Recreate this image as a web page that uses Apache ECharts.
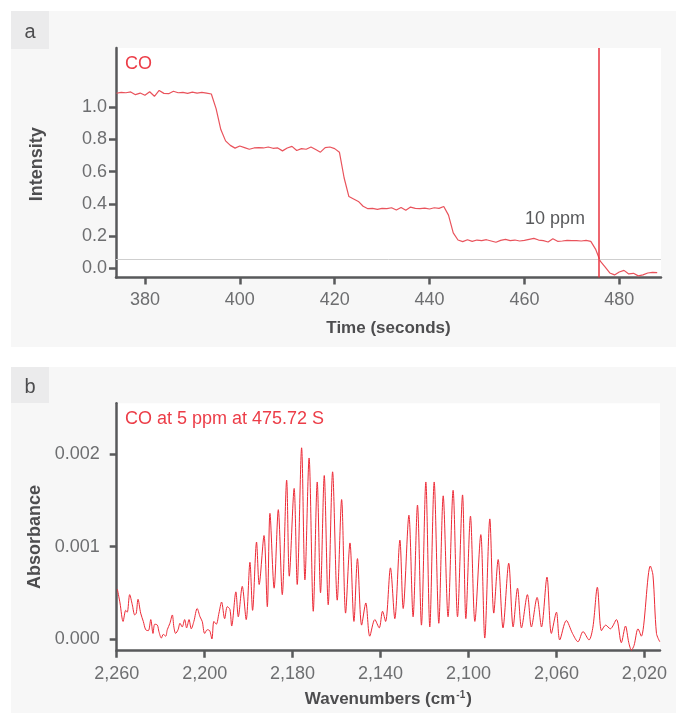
<!DOCTYPE html>
<html>
<head>
<meta charset="utf-8">
<script src="https://cdn.jsdelivr.net/npm/echarts@6/dist/echarts.min.js"></script>
<style>
  html, body { margin: 0; padding: 0; background: #fff; }
  #chart { width: 676px; height: 713px; }
</style>
</head>
<body>
<div id="chart"></div>
<script>
// panel a: CO intensity over time
const timeSec = [374, 375, 376, 377, 378, 379, 380, 381, 382, 383, 384, 385, 386, 387, 388, 389, 390, 391, 392, 393,
  394, 395, 396, 397, 398, 399, 400, 401, 402, 403, 404, 405, 406, 407, 408, 409, 410, 411, 412, 413,
  414, 415, 416, 417, 418, 419, 420, 421, 422, 423, 424, 425, 426, 427, 428, 429, 430, 431, 432, 433,
  434, 435, 436, 437, 438, 439, 440, 441, 442, 443, 444, 445, 446, 447, 448, 449, 450, 451, 452, 453,
  454, 455, 456, 457, 458, 459, 460, 461, 462, 463, 464, 465, 466, 467, 468, 469, 470, 471, 472, 473,
  474, 475, 476, 477, 478, 479, 480, 481, 482, 483, 484, 485, 486, 487, 488];
const intensity = [1.085, 1.09, 1.088, 1.093, 1.076, 1.086, 1.072, 1.094, 1.066, 1.102, 1.084, 1.082, 1.097, 1.088, 1.09, 1.084, 1.092, 1.086, 1.09, 1.086,
  1.08, 0.99, 0.86, 0.79, 0.762, 0.745, 0.758, 0.748, 0.738, 0.746, 0.748, 0.746, 0.752, 0.744, 0.746, 0.728, 0.746, 0.756, 0.73, 0.742,
  0.738, 0.752, 0.736, 0.72, 0.748, 0.752, 0.742, 0.72, 0.56, 0.445, 0.43, 0.415, 0.385, 0.37, 0.372, 0.366, 0.372, 0.37, 0.376, 0.362,
  0.378, 0.36, 0.38, 0.372, 0.37, 0.374, 0.368, 0.376, 0.372, 0.384, 0.33, 0.22, 0.176, 0.166, 0.178, 0.168, 0.176, 0.172, 0.178, 0.17,
  0.162, 0.174, 0.18, 0.172, 0.176, 0.17, 0.174, 0.18, 0.186, 0.176, 0.172, 0.164, 0.184, 0.168, 0.17, 0.174, 0.172, 0.172, 0.17, 0.174,
  0.168, 0.12, 0.045, 0.01, -0.028, -0.04, -0.022, -0.012, -0.034, -0.03, -0.046, -0.04, -0.028, -0.024, -0.026];
const thresholdLevel = 0.055;
const sampleTime = 475.72;
const timeTicks = [380, 400, 420, 440, 460, 480];
const intensityTicks = [0, 0.2, 0.4, 0.6, 0.8, 1.0];

// panel b: CO spectrum at 475.72 s
const wavenumber = [2259.7, 2258.5, 2257.1, 2255.9, 2255.2, 2254.1, 2252.9, 2251.8, 2251.1, 2250.3, 2249.1, 2247.9, 2246.8, 2245.6, 2244.5,
  2243.5, 2242.7, 2241.5, 2240.8, 2239.7, 2238.8, 2237.7, 2237.0, 2235.8, 2234.7, 2234.0, 2233.2, 2232.1, 2231.2, 2230.2,
  2229.1, 2228.2, 2227.1, 2226.1, 2224.9, 2223.4, 2222.1, 2221.1, 2220.0, 2218.8, 2217.7, 2216.7, 2215.8, 2214.7, 2213.5,
  2212.3, 2210.9, 2209.7, 2208.5, 2207.7, 2205.8, 2204.7, 2202.9, 2201.1, 2199.4, 2198.2, 2196.4, 2195.2, 2193.0, 2191.5,
  2190.3, 2188.4, 2186.5, 2184.7, 2182.7, 2181.5, 2179.3, 2177.9, 2175.9, 2174.4, 2172.5, 2170.6, 2168.8, 2167.3, 2165.6,
  2163.8, 2161.8, 2159.7, 2157.7, 2155.9, 2153.9, 2152.1, 2150.5, 2148.6, 2146.7, 2144.9, 2142.6, 2140.6, 2139.1, 2137.7,
  2135.5, 2133.5, 2131.2, 2129.7, 2127.1, 2125.2, 2123.2, 2121.4, 2119.4, 2117.6, 2115.6, 2113.5, 2111.5, 2109.3, 2107.0,
  2105.0, 2102.7, 2101.2, 2099.1, 2097.1, 2094.4, 2092.6, 2090.3, 2088.5, 2086.5, 2084.3, 2081.7, 2079.7, 2077.7, 2075.9,
  2073.2, 2071.4, 2068.8, 2066.8, 2064.3, 2062.3, 2060.0, 2058.5, 2055.5, 2052.7, 2050.2, 2047.9, 2045.2, 2043.4, 2041.4,
  2039.5, 2037.6, 2035.5, 2032.7, 2030.5, 2028.6, 2027.1, 2025.9, 2024.7, 2022.9, 2021.4, 2017.3, 2016.1, 2014.5, 2013.0];
const absorbance = [0.00054, 0.00039, 0.00019, 0.00031, 0.00029, 0.00048, 0.00037, 0.00026, 0.00028, 0.00043, 0.00028, 0.00019, 0.00010, 0.00009, 0.00021,
  0.00006, 0.00016, 0.00015, 0.00008, 0.00001, 0.00005, 0.00003, 0.00010, 0.00017, 0.00026, 0.00013, 0.00006, 0.00010, 0.00017, 0.00013,
  0.00021, 0.00012, 0.00021, 0.00011, 0.00019, 0.00033, 0.00024, 0.00019, 0.00006, 0.00010, 0.00009, 0.00000, 0.00019, 0.00016, 0.00028,
  0.00040, 0.00022, 0.00035, 0.00032, 0.00014, 0.00051, 0.00024, 0.00057, 0.00021, 0.00083, 0.00031, 0.00105, 0.00059, 0.00112, 0.00035,
  0.00136, 0.00055, 0.00140, 0.00048, 0.00172, 0.00068, 0.00163, 0.00059, 0.00207, 0.00064, 0.00196, 0.00030, 0.00170, 0.00050, 0.00177,
  0.00037, 0.00181, 0.00042, 0.00151, 0.00028, 0.00104, 0.00019, 0.00087, 0.00015, 0.00039, 0.00003, 0.00021, 0.00012, 0.00030, 0.00019,
  0.00077, 0.00022, 0.00107, 0.00033, 0.00134, 0.00024, 0.00145, 0.00015, 0.00170, 0.00013, 0.00170, 0.00017, 0.00155, 0.00024, 0.00161,
  0.00024, 0.00156, 0.00022, 0.00133, 0.00019, 0.00113, 0.00001, 0.00130, 0.00028, 0.00086, 0.00012, 0.00082, 0.00013, 0.00055, 0.00012,
  0.00048, 0.00013, 0.00045, 0.00013, 0.00067, 0.00006, 0.00029, -0.00001, 0.00020, 0.00006, -0.00003, 0.00008, -0.00001, 0.00013, 0.00056,
  0.00009, 0.00015, 0.00011, 0.00021, -0.00004, 0.00014, -0.00004, -0.00012, -0.00007, 0.00011, 0.00003, 0.00079, 0.00069, 0.00006, -0.00003];
const wavenumberTicks = [2260, 2220, 2180, 2140, 2100, 2060, 2020];
const wavenumberTickLabels = ["2,260", "2,200", "2,180", "2,140", "2,100", "2,060", "2,020"];
const absorbanceTicks = [0, 0.001, 0.002];

const FONT = "'Liberation Sans', Arial, sans-serif";
const AXIS_COLOR = "#58595b";
const LABEL_COLOR = "#6d6e70";
const NAME_COLOR = "#4d4d4f";

function axisStyle() {
  return {
    axisLine: { onZero: false, lineStyle: { color: AXIS_COLOR, width: 2.5 } },
    splitLine: { show: false },
  };
}

let chart = echarts.init(document.getElementById("chart"));
chart.setOption({
  animation: false,
  backgroundColor: "#fff",
  graphic: [
    { type: "rect", z: -10, shape: { x: 11, y: 11, width: 665, height: 336 }, style: { fill: "#f7f7f7" } },
    { type: "rect", z: -10, shape: { x: 11, y: 367, width: 665, height: 346 }, style: { fill: "#f7f7f7" } },
    { type: "rect", z: -5, shape: { x: 11, y: 11, width: 38, height: 38 }, style: { fill: "#ebebec" } },
    { type: "rect", z: -5, shape: { x: 11, y: 367, width: 38, height: 36 }, style: { fill: "#ebebec" } },
    { type: "text", z: 100, style: { text: "a", x: 30, y: 32, align: "center", verticalAlign: "middle", font: "20px " + FONT, fill: "#4d4d4f" } },
    { type: "text", z: 100, style: { text: "b", x: 30, y: 387, align: "center", verticalAlign: "middle", font: "20px " + FONT, fill: "#4d4d4f" } },
    { type: "text", z: 100, style: { text: "CO", x: 125, y: 64, verticalAlign: "middle", font: "18px " + FONT, fill: "#ec3d48" } },
    { type: "text", z: 100, style: { text: "10 ppm", x: 525, y: 219, verticalAlign: "middle", font: "18px " + FONT, fill: "#58595b" } },
    { type: "text", z: 100, style: { text: "CO at 5 ppm at 475.72 S", x: 125, y: 419, verticalAlign: "middle", font: "18px " + FONT, fill: "#ec3d48" } },
  ],
  grid: [
    { left: 116, top: 48, right: 15, height: 229.5, show: true, backgroundColor: "#fff", borderWidth: 0 },
    { left: 116.7, top: 403.3, right: 16, height: 247.4, show: true, backgroundColor: "#fff", borderWidth: 0 },
  ],
  xAxis: [
    Object.assign(axisStyle(), {
      type: "value", gridIndex: 0, min: 373.9, max: 488.8,
      axisTick: { length: 7, customValues: timeTicks, lineStyle: { color: AXIS_COLOR, width: 2.5 } },
      axisLabel: { customValues: timeTicks, margin: 14, color: LABEL_COLOR, fontSize: 18, fontFamily: FONT },
      name: "Time (seconds)", nameLocation: "middle", nameGap: 42,
      nameTextStyle: { color: NAME_COLOR, fontSize: 17, fontWeight: "bold", fontFamily: FONT },
    }),
    Object.assign(axisStyle(), {
      type: "value", gridIndex: 1, min: 2012.9, max: 2260, inverse: true,
      axisTick: { length: 7, customValues: wavenumberTicks, lineStyle: { color: AXIS_COLOR, width: 2.5 } },
      axisLabel: {
        customValues: wavenumberTicks, margin: 14, color: LABEL_COLOR, fontSize: 18, fontFamily: FONT,
        formatter: (v) => wavenumberTickLabels[wavenumberTicks.indexOf(Math.round(v))],
      },
      name: "Wavenumbers (cm{sup|-1})", nameLocation: "middle", nameGap: 40,
      nameTextStyle: {
        color: NAME_COLOR, fontSize: 17, fontWeight: "bold", fontFamily: FONT,
        rich: { sup: { fontSize: 10, fontWeight: "bold", color: NAME_COLOR, fontFamily: FONT, verticalAlign: "top", padding: [0, 1, 8, 1] } },
      },
    }),
  ],
  yAxis: [
    Object.assign(axisStyle(), {
      type: "value", gridIndex: 0, min: -0.056, max: 1.365,
      axisTick: { length: 7, customValues: intensityTicks, lineStyle: { color: AXIS_COLOR, width: 2.5 } },
      axisLabel: { customValues: intensityTicks, margin: 9, color: LABEL_COLOR, fontSize: 18, fontFamily: FONT, formatter: (v) => v.toFixed(1) },
      name: "Intensity", nameLocation: "middle", nameGap: 70,
      nameTextStyle: { color: NAME_COLOR, fontSize: 18, fontWeight: "bold", fontFamily: FONT, padding: [0, 3, 0, 0] },
    }),
    Object.assign(axisStyle(), {
      type: "value", gridIndex: 1, min: -0.000127, max: 0.002552,
      axisTick: { length: 7, customValues: absorbanceTicks, lineStyle: { color: AXIS_COLOR, width: 2.5 } },
      axisLabel: { customValues: absorbanceTicks, margin: 17, color: LABEL_COLOR, fontSize: 18, fontFamily: FONT, formatter: (v) => v.toFixed(3) },
      name: "Absorbance", nameLocation: "middle", nameGap: 70,
      nameTextStyle: { color: NAME_COLOR, fontSize: 18, fontWeight: "bold", fontFamily: FONT, padding: [0, 20, 0, 0] },
    }),
  ],
  series: [
    {
      type: "line", xAxisIndex: 0, yAxisIndex: 0,
      data: timeSec.map((t, i) => [t, intensity[i]]),
      showSymbol: false, silent: true,
      lineStyle: { color: "#e9535c", width: 1.2 },
      markLine: {
        silent: true, symbol: "none", label: { show: false },
        data: [
          { yAxis: thresholdLevel, lineStyle: { color: "#cfcfcf", width: 1, type: "solid" } },
          { xAxis: sampleTime, lineStyle: { color: "#e8333f", width: 1.5, type: "solid" } },
        ],
      },
    },
    {
      type: "line", xAxisIndex: 1, yAxisIndex: 1,
      data: wavenumber.map((w, i) => [w, absorbance[i]]),
      showSymbol: false, silent: true, smooth: 0.3,
      lineStyle: { color: "#ec2a36", width: 1 },
    },
  ],
});
</script>
</body>
</html>
